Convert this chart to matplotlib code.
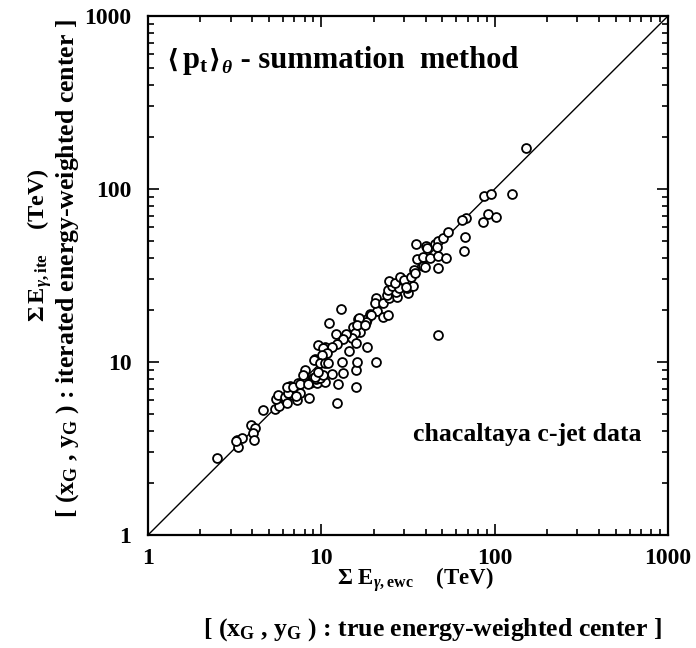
import numpy as np
import matplotlib
matplotlib.use("Agg")
import matplotlib.pyplot as plt
from matplotlib.ticker import LogLocator, NullFormatter, FixedLocator, FixedFormatter

plt.rcParams['font.family'] = ['Liberation Serif', 'DejaVu Serif']
plt.rcParams['font.weight'] = 'bold'
plt.rcParams['mathtext.fontset'] = 'custom'
plt.rcParams['mathtext.rm'] = 'Liberation Serif:bold'
plt.rcParams['mathtext.bf'] = 'Liberation Serif:bold'
plt.rcParams['mathtext.it'] = 'Liberation Serif:bold:italic'

# sum E (true energy-weighted center), TeV
e_true = [2.50, 3.26, 3.31, 3.49, 3.22, 3.93, 4.14, 4.04, 4.09, 4.61,
          5.41, 5.70, 5.48, 5.62, 6.18, 6.34, 6.59, 6.87, 7.24, 7.54,
          7.34, 8.49, 7.94, 8.95, 8.61, 9.45, 10.5, 11.5, 12.5, 12.3,
          15.8, 13.3, 15.8, 16.1, 20.7, 13.2, 18.4, 14.5, 12.2, 9.57,
          13.0, 11.1, 6.43, 7.14, 6.34, 6.87, 7.54, 8.38, 9.32, 8.05,
          9.84, 9.20, 10.5, 7.84, 9.20, 10.2, 9.57,
          16.3, 17.2, 18.4, 15.2, 16.7, 15.6, 15.0, 13.9, 13.3, 15.8,
          12.3, 11.5, 10.2, 10.8, 10.1, 9.08, 9.84, 10.5, 10.9,
          19.1, 21.0, 22.7, 24.3, 20.7, 20.4, 22.7, 24.6, 27.3, 23.9,
          27.0, 24.3, 31.6, 25.6, 28.1, 31.2, 33.8, 24.6, 26.6, 28.5,
          30.0, 32.9, 34.3, 38.6, 47.1, 35.7, 38.6, 42.4, 47.1, 35.2,
          40.2, 40.7, 45.3, 47.1, 30.8, 19.4, 18.1, 16.5, 16.1, 17.9,
          34.7, 39.7, 46.5, 52.4,
          50.4, 53.8, 68.4, 64.9, 67.5, 66.6, 85.7, 91.6, 102, 86.9,
          95.3, 126, 152, 47.1]
# sum E (iterated energy-weighted center), TeV
e_ite = [2.79, 3.54, 3.23, 3.64, 3.49, 4.32, 4.15, 3.89, 3.54, 5.28,
         5.35, 5.57, 6.11, 6.44, 6.28, 5.79, 7.26, 6.44, 6.03, 6.62,
         7.57, 6.19, 8.19, 8.08, 7.57, 7.57, 7.66, 8.53, 7.46, 5.79,
         7.17, 8.64, 8.99, 10.0, 10.0, 10.0, 12.2, 11.6, 14.5, 12.5,
         20.2, 16.8, 6.62, 6.36, 7.17, 7.17, 7.46, 7.46, 7.98, 8.99,
         8.08, 10.4, 12.2, 8.41, 8.19, 8.41, 8.75,
         17.7, 16.6, 17.7, 15.9, 14.9, 14.7, 13.8, 14.5, 13.6, 12.9,
         12.7, 12.2, 12.0, 11.3, 11.0, 10.3, 9.87, 9.87, 9.87,
         18.9, 19.7, 18.2, 18.7, 23.4, 21.9, 21.9, 23.4, 23.8, 24.4,
         25.4, 26.1, 25.0, 27.5, 26.8, 26.8, 27.5, 29.4, 28.6, 31.0,
         29.8, 31.0, 34.0, 35.9, 34.9, 39.4, 40.5, 39.9, 41.0, 48.1,
         46.8, 45.6, 48.1, 50.0, 27.1, 18.7, 17.0, 18.0, 16.4, 16.4,
         32.7, 35.4, 46.2, 39.9,
         52.1, 56.4, 68.0, 66.2, 52.8, 43.8, 64.4, 71.7, 68.9, 91.2,
         93.5, 93.5, 173, 14.3]

diag = [1, 1000]
tick_vals = [1, 10, 100, 1000]
tick_labels = ['1', '10', '100', '1000']

fig = plt.figure(figsize=(6.96, 6.48), dpi=100)
ax = fig.add_axes([148/696, 113/648, 520/696, 519/648])
ax.set_xscale('log')
ax.set_yscale('log')
ax.set_xlim(1, 1000)
ax.set_ylim(1, 1000)

ax.plot(diag, diag, color='black', lw=1.0)
ax.plot(e_true, e_ite, linestyle='none', marker='o', markersize=6.4,
        markerfacecolor='white', markeredgecolor='black', markeredgewidth=1.3)

for s in ax.spines.values():
    s.set_linewidth(1.6)

ax.xaxis.set_major_locator(FixedLocator(tick_vals))
ax.yaxis.set_major_locator(FixedLocator(tick_vals))
ax.xaxis.set_major_formatter(FixedFormatter(tick_labels))
ax.yaxis.set_major_formatter(FixedFormatter(tick_labels))
ax.xaxis.set_minor_locator(LogLocator(base=10, subs=np.arange(2, 10)))
ax.yaxis.set_minor_locator(LogLocator(base=10, subs=np.arange(2, 10)))
ax.xaxis.set_minor_formatter(NullFormatter())
ax.yaxis.set_minor_formatter(NullFormatter())
ax.tick_params(which='both', direction='in', top=True, right=True, width=1.2)
ax.tick_params(which='major', length=8)
ax.tick_params(which='minor', length=4)
ax.tick_params(axis='x', which='major', pad=9, labelsize=17)
ax.tick_params(axis='y', which='major', pad=12, labelsize=17)
for lab in ax.get_xticklabels() + ax.get_yticklabels():
    lab.set_fontweight('bold')

# title built from chained pieces
yb = 1 - 68/648
t1 = fig.text(166/696, yb, '\u27e8', family='DejaVu Sans', fontweight='bold',
              fontsize=19, ha='left', va='baseline')
t2 = fig.text(0, yb, 'p$_{\\mathrm{t}}$', fontsize=22, ha='left', va='baseline')
t3 = fig.text(0, yb, '\u27e9', family='DejaVu Sans', fontweight='bold',
              fontsize=19, ha='left', va='baseline')
t4 = fig.text(0, yb, '$\\theta$', fontsize=14, ha='left', va='baseline')
t5 = fig.text(0, yb, ' - summation  method', fontsize=22, ha='left', va='baseline')
fig.canvas.draw()
r = fig.canvas.get_renderer()
inv = fig.transFigure.inverted()
def right_of(t, gap_px):
    bb = t.get_window_extent(r)
    return inv.transform((bb.x1 + gap_px, 0))[0]
t2.set_x(right_of(t1, 4))
t3.set_x(right_of(t2, 1))
t4.set_x(right_of(t3, 0))
t4.set_y(yb - 5/648)
t5.set_x(right_of(t4, 0))

fig.text(527/696, 1 - 435/648, 'chacaltaya c-jet data', fontsize=18.5,
         fontweight='bold', ha='center', va='center')

fig.text(415/696, 1 - 580/648, r'$\Sigma\ \mathrm{E}_{\gamma\mathrm{,ewc}}$' + '    (TeV)',
         fontsize=16.5, fontweight='bold', ha='center', va='center')
fig.text(432/696, 1 - 630/648,
         r'[ (x$_{\mathrm{G}}$ , y$_{\mathrm{G}}$ ) : true energy-weighted center ]',
         fontsize=18.5, fontweight='bold', ha='center', va='center')

fig.text(40/696, 1 - 245/648, r'$\Sigma\,\mathrm{E}_{\gamma\mathrm{,ite}}$' + '    (TeV)',
         fontsize=17.5, fontweight='bold', ha='center', va='center', rotation=90)
fig.text(68/696, 1 - 269/648,
         r'[ (x$_{\mathrm{G}}$ , y$_{\mathrm{G}}$ ) : iterated energy-weighted center ]',
         fontsize=18.5, fontweight='bold', ha='center', va='center', rotation=90)

fig.savefig('out.png', dpi=100)
